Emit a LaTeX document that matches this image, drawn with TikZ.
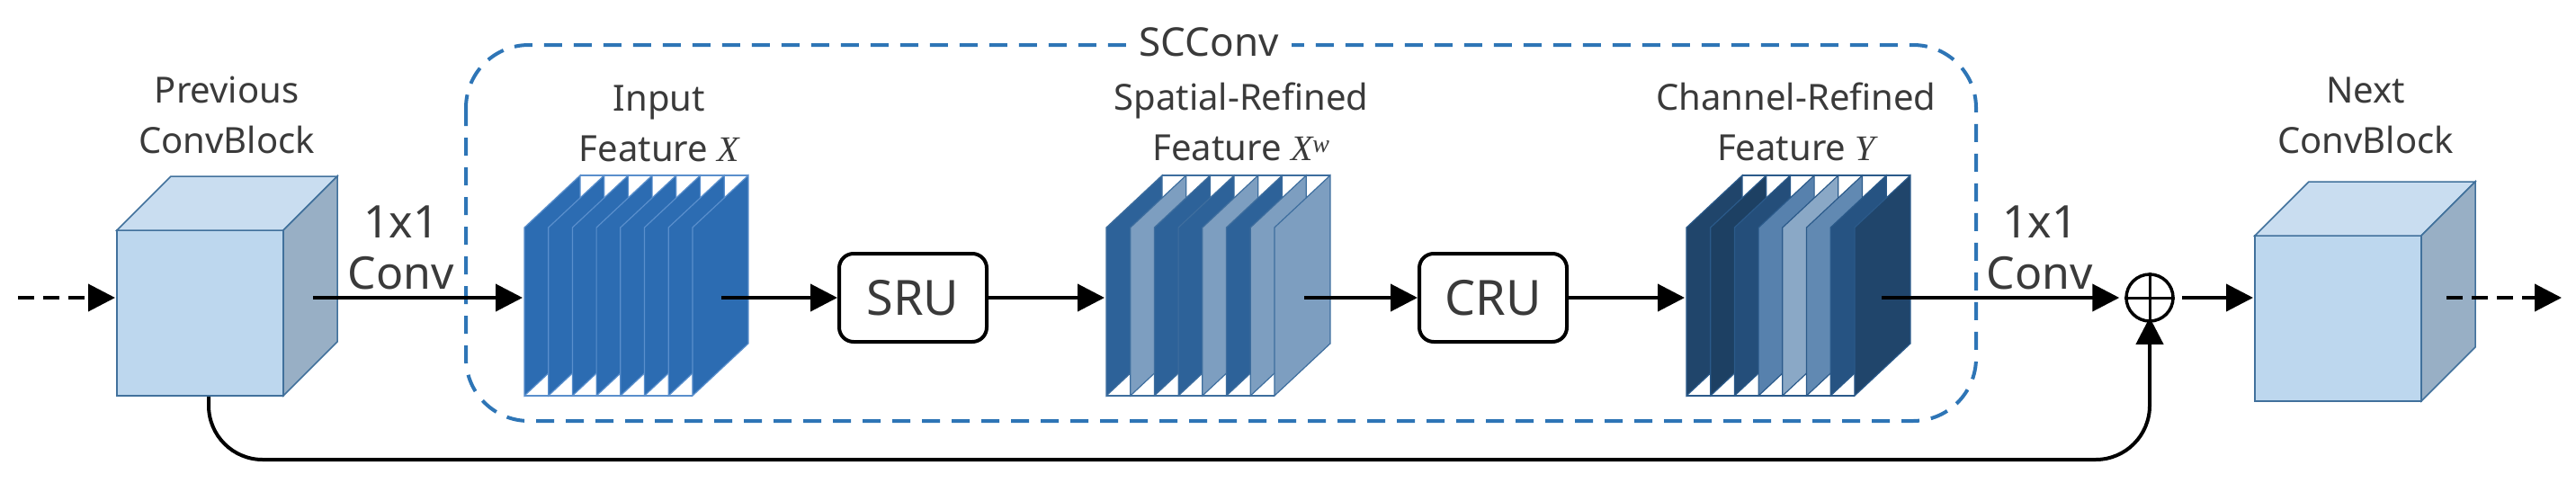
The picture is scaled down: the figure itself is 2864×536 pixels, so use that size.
\documentclass[tikz,border=0pt]{standalone}
\usepackage{fontspec}
\setmainfont{Noto Sans}
\newfontfamily\mathserif{Liberation Serif}
\usetikzlibrary{arrows.meta}
\definecolor{txt}{HTML}{3A3A3A}
\definecolor{cfront}{HTML}{BDD7EE}
\definecolor{ctop}{HTML}{C9DDF0}
\definecolor{cside}{HTML}{98AFC5}
\definecolor{cedge}{HTML}{41719C}
\definecolor{dbox}{HTML}{2E75B6}
\definecolor{inA}{HTML}{2C6CB2}
\definecolor{inE}{HTML}{5A8FCC}
\definecolor{spD}{HTML}{2D6299}
\definecolor{spL}{HTML}{7D9EC0}
\definecolor{spE}{HTML}{3E6E9E}
\definecolor{chE}{HTML}{2B5A8A}
\newcommand{\mv}[1]{{\mathserif\itshape #1}}
\newcommand{\slicecube}[4]{% x0, yb, colors list, edge
  \foreach \c [count=\i from 0] in {#3} {
    \pgfmathsetmacro{\xx}{#1+\i*26.7}
    \fill[\c,draw=#4,line width=1.2pt] (\xx,#2) -- (\xx,#2-187) -- (\xx+62,#2-245) -- (\xx+62,#2-58) -- cycle;
  }
  \draw[#4,line width=1.5pt] (#1,#2) -- (#1+187,#2) (#1+62,#2-245) -- (#1+249,#2-245);
}
\newcommand{\plaincube}[2]{% x0,yb
  \draw[cedge,line width=1.5pt,fill=cfront] (#1,#2) rectangle (#1+185,#2-184);
  \draw[cedge,line width=1.5pt,fill=ctop] (#1,#2-184) -- (#1+60,#2-244) -- (#1+245,#2-244) -- (#1+185,#2-184) -- cycle;
  \draw[cedge,line width=1.5pt,fill=cside] (#1+185,#2) -- (#1+245,#2-60) -- (#1+245,#2-244) -- (#1+185,#2-184) -- cycle;
}
\tikzset{
  lbl/.style={text=txt,font=\fontsize{40}{56}\selectfont,align=center,inner sep=0pt},
  arr/.style={line width=4pt,-{Triangle[length=30pt,width=30pt]}},
  darr/.style={arr,dash pattern=on 18pt off 10pt},
  unit/.style={draw,line width=4pt,rounded corners=16pt,minimum width=164pt,minimum height=98pt,font=\fontsize{54}{60}\selectfont,text=txt},
}
\begin{document}
\begin{tikzpicture}[x=1pt,y=-1pt]
\useasboundingbox (0,0) rectangle (2864,536);
% dashed SCConv box
\draw[dbox,line width=4pt,dash pattern=on 20pt off 13pt,rounded corners=70pt] (518,50) rectangle (2197,468);
\node[lbl,fill=white,inner xsep=14pt,inner ysep=2pt,font=\fontsize{44}{50}\selectfont] (sc) at (1344,47) {SCConv};
% cubes
\plaincube{130}{440}
\plaincube{2507}{446}
\slicecube{583}{440}{inA,inA,inA,inA,inA,inA,inA,inA}{inE}
\slicecube{1230}{440}{spD,spL,spD,spD,spL,spD,spL,spL}{spE}
\slicecube{1875}{440}{black!30!spD,black!35!spD,black!20!spD,spD!80!white,spL!90!white,spD!75!white,spD!85!black,black!30!spD}{chE}
% named anchors
\coordinate (prevW) at (128,331);
\coordinate (prevO) at (348,331);
\coordinate (prevB) at (232,441);
\coordinate (inW) at (581,331);
\coordinate (inO) at (802,331);
\coordinate (spW) at (1228,331);
\coordinate (spO) at (1450,331);
\coordinate (chW) at (1873,331);
\coordinate (chO) at (2092,331);
\coordinate (nextW) at (2505,331);
\coordinate (nextO) at (2720,331);
\coordinate (inS) at (20,331);
\coordinate (outE) at (2848,331);
% labels
\node[lbl] (lprev) at (252,128) {Previous\\ConvBlock};
\node[lbl] (lnext) at (2630,128) {Next\\ConvBlock};
\node[lbl] (lin) at (733,137) {Input\\Feature \mv{X}};
\node[lbl] (lsp) at (1380,135) {Spatial-Refined\\Feature \mv{X}\textsuperscript{\mv{w}}};
\node[lbl] (lch) at (1997,135) {Channel-Refined\\Feature \mv{Y}};
\node[lbl,font=\fontsize{50}{57}\selectfont] (c1) at (446,275) {1x1\\Conv};
\node[lbl,font=\fontsize{50}{57}\selectfont] (c2) at (2268,275) {1x1\\Conv};
% units
\node[unit] (sru) at (1015,331) {SRU};
\node[unit] (cru) at (1660,331) {CRU};
% plus
\node[circle,draw,line width=3.5pt,minimum size=52pt,inner sep=0pt] (plus) at (2390,331) {};
\draw[line width=3pt] (plus.north) -- (plus.south) (plus.west) -- (plus.east);
% arrows
\draw[darr] (inS) -- (prevW);
\draw[arr] (prevO) -- (inW);
\draw[arr] (inO) -- (sru);
\draw[arr] (sru) -- (spW);
\draw[arr] (spO) -- (cru);
\draw[arr] (cru) -- (chW);
\draw[arr] (chO) -- ([xshift=-6pt]plus.west);
\draw[arr] ([xshift=8pt]plus.east) -- (nextW);
\draw[darr] (nextO) -- (outE);
\draw[arr,rounded corners=60pt] (prevB) |- (2390,511) -- ([yshift=6pt]plus.south);
\end{tikzpicture}
\end{document}
